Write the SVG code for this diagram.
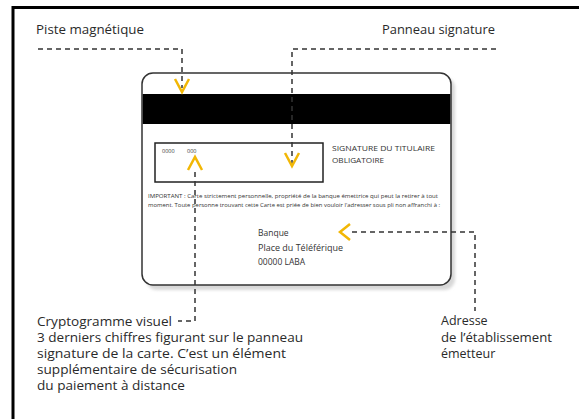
<svg xmlns="http://www.w3.org/2000/svg" width="579" height="419" viewBox="0 0 579 419">
<defs>
<style>
.lbl{font-family:"Open Sans","DejaVu Sans",sans-serif;font-size:12.5px;fill:#2a2a2a}
.card{font-family:"Open Sans","DejaVu Sans",sans-serif;fill:#333}
.dash{fill:none;stroke:#333;stroke-width:1.5;stroke-dasharray:5 4}
.chev{fill:none;stroke:#F2B705;stroke-width:2.5;stroke-linejoin:miter}
</style>
<filter id="blur" x="-5%" y="-5%" width="110%" height="110%"><feGaussianBlur stdDeviation="1.5"/></filter>
</defs>
<rect width="579" height="419" fill="#fff"/>
<g id="frame">
<line x1="12" y1="7.5" x2="579" y2="7.5" stroke="#000" stroke-width="3"/>
<line x1="13" y1="6" x2="13" y2="419" stroke="#000" stroke-width="3"/>
</g>
<g id="card">
<rect x="146" y="77" width="309" height="213" rx="11" fill="#d8d8d8" filter="url(#blur)"/>
<rect x="142" y="73" width="309" height="212" rx="11" fill="#fff" stroke="#333" stroke-width="1.5"/>
<rect x="142.75" y="94" width="307.5" height="30" fill="#000"/>
<rect x="155" y="143" width="168" height="39" fill="#fff" stroke="#222" stroke-width="1.5"/>
<text class="card" x="162" y="153" font-size="5.5">0000</text>
<text class="card" x="187" y="153" font-size="5.5">000</text>
<text class="card" x="332" y="151" font-size="7.5" textLength="103" lengthAdjust="spacingAndGlyphs">SIGNATURE DU TITULAIRE</text>
<text class="card" x="332" y="163" font-size="7.5" textLength="52" lengthAdjust="spacingAndGlyphs">OBLIGATOIRE</text>
<text class="card" x="148" y="198" font-size="5.5" textLength="290" lengthAdjust="spacingAndGlyphs">IMPORTANT : Carte strictement personnelle, propriété de la banque émettrice qui peut la retirer à tout</text>
<text class="card" x="148" y="207" font-size="5.5" textLength="292" lengthAdjust="spacingAndGlyphs">moment. Toute personne trouvant cette Carte est priée de bien vouloir l'adresser sous pli non affranchi à :</text>
<text class="card" x="258" y="236" font-size="8.5">Banque</text>
<text class="card" x="258" y="251" font-size="8.5" textLength="85" lengthAdjust="spacingAndGlyphs">Place du Téléférique</text>
<text class="card" x="258" y="265" font-size="8.5">00000 LABA</text>
</g>
<g id="labels">
<text id="piste" class="lbl" x="36" y="34" textLength="108" lengthAdjust="spacingAndGlyphs">Piste magnétique</text>
<text id="panneau" class="lbl" x="382" y="34" textLength="113" lengthAdjust="spacingAndGlyphs">Panneau signature</text>
<g id="crypto">
<text class="lbl" x="37" y="326" textLength="135" lengthAdjust="spacingAndGlyphs">Cryptogramme visuel</text>
<text class="lbl" x="37" y="342" textLength="266" lengthAdjust="spacingAndGlyphs">3 derniers chiffres figurant sur le panneau</text>
<text class="lbl" x="37" y="358" textLength="249" lengthAdjust="spacingAndGlyphs">signature de la carte. C’est un élément</text>
<text class="lbl" x="37" y="374" textLength="200" lengthAdjust="spacingAndGlyphs">supplémentaire de sécurisation</text>
<text class="lbl" x="37" y="390" textLength="148" lengthAdjust="spacingAndGlyphs">du paiement à distance</text>
</g>
<g id="adresse">
<text class="lbl" x="441" y="325">Adresse</text>
<text class="lbl" x="441" y="342" textLength="111" lengthAdjust="spacingAndGlyphs">de l’établissement</text>
<text class="lbl" x="441" y="358">émetteur</text>
</g>
</g>
<g id="connectors">
<polyline class="dash" points="38,49 182,49 182,88"/>
<polyline class="dash" points="292,165 292,49 496,49"/>
<polyline class="dash" points="195,172 195,321 178,321"/>
<polyline class="dash" points="352,232 475,232 475,311"/>
<polyline class="chev" points="175,79 182,92 189,79"/>
<polyline class="chev" points="285,153 292,166 299,153"/>
<polyline class="chev" points="188,170 195,157 202,170"/>
<polyline class="chev" points="350,224 340,232 350,240"/>
</g>
</svg>
